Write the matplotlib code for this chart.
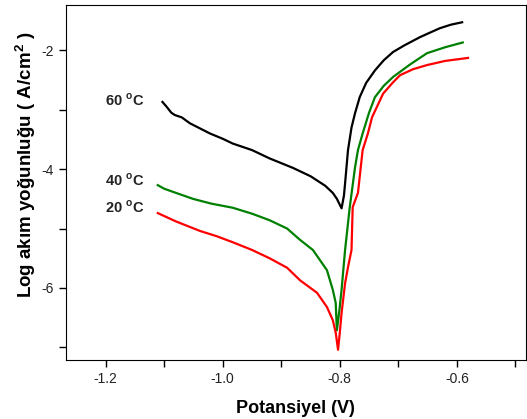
import matplotlib.pyplot as plt
from matplotlib.ticker import MultipleLocator

plt.rcParams["font.family"] = ["Liberation Sans", "DejaVu Sans"]

# 60 C
v60 = [-1.103, -1.096, -1.088, -1.082, -1.070, -1.056, -1.040, -1.022, -1.000, -0.983,
       -0.950, -0.920, -0.880, -0.850, -0.825, -0.812, -0.805, -0.797, -0.793, -0.791,
       -0.786, -0.780, -0.774, -0.766, -0.755, -0.740, -0.725, -0.709, -0.690, -0.663,
       -0.645, -0.629, -0.610, -0.591]
i60 = [-2.87, -2.95, -3.05, -3.09, -3.13, -3.23, -3.31, -3.40, -3.49, -3.57,
       -3.68, -3.82, -3.98, -4.12, -4.28, -4.40, -4.50, -4.66, -4.45, -4.24,
       -3.68, -3.30, -3.06, -2.79, -2.55, -2.34, -2.17, -2.03, -1.92, -1.78,
       -1.70, -1.63, -1.57, -1.53]

# 40 C
v40 = [-1.111, -1.100, -1.080, -1.051, -1.020, -0.983, -0.950, -0.920, -0.890, -0.868,
       -0.846, -0.834, -0.822, -0.812, -0.807, -0.805, -0.801, -0.797, -0.791, -0.783,
       -0.774, -0.769, -0.761, -0.750, -0.740, -0.725, -0.709, -0.680, -0.651, -0.620,
       -0.590]
i40 = [-4.27, -4.33, -4.40, -4.50, -4.58, -4.65, -4.75, -4.86, -5.00, -5.19,
       -5.36, -5.53, -5.70, -6.03, -6.25, -6.71, -6.40, -6.03, -5.36, -4.64,
       -3.97, -3.68, -3.40, -3.05, -2.79, -2.60, -2.45, -2.24, -2.05, -1.95,
       -1.87]

# 20 C
v20 = [-1.111, -1.080, -1.039, -1.010, -0.983, -0.950, -0.920, -0.890, -0.868, -0.839,
       -0.822, -0.812, -0.807, -0.803, -0.800, -0.797, -0.791, -0.786, -0.780, -0.778,
       -0.769, -0.761, -0.752, -0.745, -0.726, -0.710, -0.697, -0.675, -0.651, -0.620,
       -0.581]
i20 = [-4.74, -4.88, -5.04, -5.13, -5.23, -5.36, -5.50, -5.66, -5.87, -6.08,
       -6.32, -6.54, -6.75, -7.04, -6.75, -6.42, -5.92, -5.65, -5.36, -4.64,
       -4.40, -3.68, -3.40, -3.13, -2.73, -2.55, -2.42, -2.32, -2.25, -2.18,
       -2.13]

labels = ["60 $^\\mathregular{o}$C", "40 $^\\mathregular{o}$C", "20 $^\\mathregular{o}$C"]
label_y = [-2.84, -4.18, -4.64]

fig = plt.figure(figsize=(5.27, 4.19), dpi=100)
ax = fig.add_axes([0.125, 0.141, 0.873, 0.847])

ax.plot(v60, i60, color="black", lw=1.6)
ax.plot(v40, i40, color="#008000", lw=1.6)
ax.plot(v20, i20, color="#ff0000", lw=1.6)

for lab, y in zip(labels, label_y):
    ax.text(-1.202, y, lab, fontsize=10.5, fontweight="bold", color="#222222",
            va="center", ha="left")

ax.set_xlim(-1.268, -0.482)
ax.set_ylim(-7.21, -1.24)
ax.xaxis.set_major_locator(MultipleLocator(0.2))
ax.xaxis.set_minor_locator(MultipleLocator(0.1))
ax.yaxis.set_major_locator(MultipleLocator(2))
ax.yaxis.set_minor_locator(MultipleLocator(1))
ax.xaxis.set_major_formatter(plt.FuncFormatter(lambda v, p: f"{v:.1f}"))
ax.yaxis.set_major_formatter(plt.FuncFormatter(lambda v, p: f"{v:.0f}"))
ax.tick_params(which="both", direction="out", length=5, width=1, labelsize=10,
               labelcolor="#222222")

ax.set_xlabel("Potansiyel (V)", fontsize=13, fontweight="bold", labelpad=10)
ax.set_ylabel("Log akım yoğunluğu ( A/cm$^\\mathregular{2}$ )", fontsize=13.5,
              fontweight="bold")
ax.yaxis.set_label_coords(-0.061, 0.55)

fig.savefig("out.png", dpi=100)
